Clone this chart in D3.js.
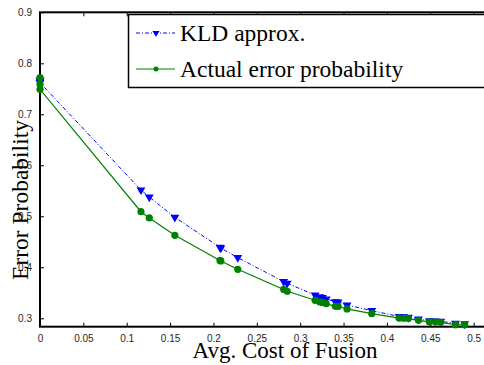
<!DOCTYPE html>
<html><head><meta charset="utf-8">
<script src="https://cdn.jsdelivr.net/npm/d3@7/dist/d3.min.js"></script>
<style>body{margin:0;background:#fff;}svg{display:block;}</style>
</head><body><svg id="c" width="484" height="365"></svg>
<script>
const cost = [0, 0, 0, 0.1164, 0.126, 0.1555, 0.2075, 0.2085, 0.228, 0.2810, 0.2850, 0.3172, 0.3226, 0.3256, 0.3300, 0.3405, 0.3437, 0.3540, 0.3825, 0.4140, 0.4193, 0.4247, 0.4364, 0.4490, 0.4559, 0.4620, 0.4790, 0.4896];
const kld = [0.767, 0.765, 0.762, 0.5516, 0.5378, 0.498, 0.4392, 0.4375, 0.419, 0.3718, 0.3686, 0.3454, 0.342, 0.3404, 0.3378, 0.3325, 0.332, 0.326, 0.315, 0.3035, 0.303, 0.302, 0.2985, 0.2952, 0.2948, 0.294, 0.290, 0.289];
const actual = [0.772, 0.759, 0.749, 0.509, 0.4967, 0.4627, 0.4135, 0.4125, 0.396, 0.3565, 0.353, 0.3353, 0.332, 0.331, 0.3287, 0.3235, 0.3232, 0.3183, 0.309, 0.3005, 0.300, 0.2995, 0.296, 0.2928, 0.293, 0.292, 0.2875, 0.287];
const xTicks = [0, 0.05, 0.1, 0.15, 0.2, 0.25, 0.3, 0.35, 0.4, 0.45, 0.5];
const xTickLabels = ["0", "0.05", "0.1", "0.15", "0.2", "0.25", "0.3", "0.35", "0.4", "0.45", "0.5"];
const yTicks = [0.3, 0.4, 0.5, 0.6, 0.7, 0.8, 0.9];
const yTickLabels = ["0.3", "0.4", "0.5", "0.6", "0.7", "0.8", "0.9"];
const seriesNames = ["KLD approx.", "Actual error probability"];

const svg = d3.select("#c");
const L = 40, R = 491, T = 12.3, B = 326.7;
const x = d3.scaleLinear().domain([0, 0.52]).range([L, R]);
const y = d3.scaleLinear().domain([0.2835, 0.9]).range([B, T]);

svg.append("defs").append("clipPath").attr("id", "clip")
  .append("rect").attr("x", L - 6).attr("y", T - 6).attr("width", R - L + 12).attr("height", B - T + 12);

const tickFont = "Liberation Sans, Arial, sans-serif";
const xAx = svg.append("g").attr("transform", `translate(0,${B})`)
  .call(d3.axisBottom(x).tickValues(xTicks).tickFormat((d, i) => xTickLabels[i]).tickSizeInner(-4).tickSizeOuter(0).tickPadding(8));
xAx.select(".domain").remove();
xAx.selectAll("line").attr("stroke", "#000").attr("stroke-width", 1);
xAx.selectAll("text").attr("font-family", tickFont).attr("font-size", 10).attr("fill", "#262626");
const xTop = svg.append("g").attr("transform", `translate(0,${T})`)
  .call(d3.axisTop(x).tickValues(xTicks).tickFormat("").tickSizeInner(-4).tickSizeOuter(0));
xTop.select(".domain").remove();
xTop.selectAll("line").attr("stroke", "#000");
const yAx = svg.append("g").attr("transform", `translate(${L},0)`)
  .call(d3.axisLeft(y).tickValues(yTicks).tickFormat((d, i) => yTickLabels[i]).tickSizeInner(-4).tickSizeOuter(0).tickPadding(8));
yAx.select(".domain").remove();
yAx.selectAll("line").attr("stroke", "#000");
yAx.selectAll("text").attr("font-family", tickFont).attr("font-size", 10).attr("fill", "#262626");

svg.append("rect").attr("x", L).attr("y", T).attr("width", R - L).attr("height", B - T)
  .attr("fill", "none").attr("stroke", "#000").attr("stroke-width", 2);

const g = svg.append("g").attr("clip-path", "url(#clip)");
const lineK = d3.line().x((d, i) => x(cost[i])).y(d => y(d));
g.append("path").datum(kld).attr("d", lineK).attr("fill", "none").attr("stroke", "#0000ff")
  .attr("stroke-width", 1).attr("stroke-dasharray", "4,2,1,2");
g.append("path").datum(actual).attr("d", lineK).attr("fill", "none").attr("stroke", "#008000")
  .attr("stroke-width", 1.2);
const tri = d3.symbol().type(d3.symbolTriangle).size(34);
g.selectAll(".tri").data(kld).enter().append("path")
  .attr("d", tri).attr("transform", (d, i) => `translate(${x(cost[i])},${y(d)}) rotate(180)`)
  .attr("fill", "#0000ff");
g.selectAll(".dot").data(actual).enter().append("circle")
  .attr("cx", (d, i) => x(cost[i])).attr("cy", d => y(d)).attr("r", 3.6).attr("fill", "#008000");

const lg = svg.append("g");
lg.append("rect").attr("x", 128.5).attr("y", 14.5).attr("width", 380).attr("height", 73)
  .attr("fill", "#fff").attr("stroke", "#000").attr("stroke-width", 1.5);
const serif = "Liberation Serif, 'Times New Roman', serif";
lg.append("line").attr("x1", 136).attr("x2", 175).attr("y1", 33).attr("y2", 33)
  .attr("stroke", "#0000ff").attr("stroke-dasharray", "4,2,1,2");
lg.append("path").attr("d", tri).attr("transform", "translate(156,33) rotate(180) scale(0.8)").attr("fill", "#0000ff");
lg.append("text").attr("x", 180).attr("y", 41).text(seriesNames[0])
  .attr("font-family", serif).attr("font-size", 23.5).attr("fill", "#000");
lg.append("line").attr("x1", 136).attr("x2", 175).attr("y1", 69).attr("y2", 69)
  .attr("stroke", "#008000").attr("stroke-width", 1.2);
lg.append("circle").attr("cx", 156).attr("cy", 69).attr("r", 2.5).attr("fill", "#008000");
lg.append("text").attr("x", 180).attr("y", 77).text(seriesNames[1])
  .attr("font-family", serif).attr("font-size", 23.5).attr("fill", "#000");

svg.append("text").attr("x", 285).attr("y", 358).attr("text-anchor", "middle")
  .attr("font-family", serif).attr("font-size", 23).text("Avg. Cost of Fusion");
svg.append("text").attr("transform", "translate(28,200) rotate(-90)").attr("text-anchor", "middle")
  .attr("font-family", serif).attr("font-size", 23.5).text("Error Probability");
</script></body></html>
